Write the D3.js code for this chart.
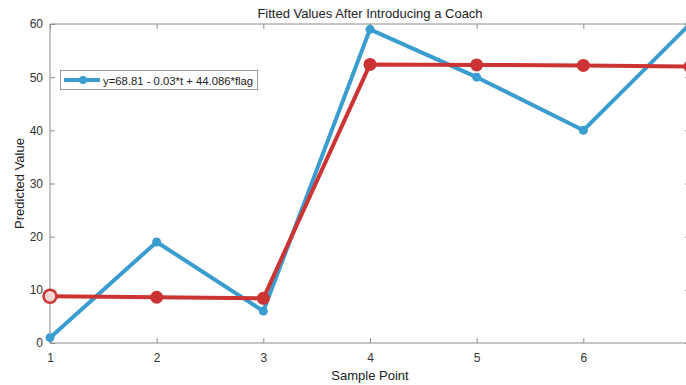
<!DOCTYPE html>
<html><head><meta charset="utf-8">
<script src="https://cdn.jsdelivr.net/npm/d3@7/dist/d3.min.js"></script>
<style>body{margin:0;background:#fff}svg{display:block;font-family:"Liberation Sans",Arial,sans-serif}</style>
</head><body><svg id="c" width="686" height="385"></svg>
<script>
const samplePoints = [1, 2, 3, 4, 5, 6, 7];
const actualValues = [1, 19, 6, 59, 50, 40, 60];
const fittedValues = [8.8, 8.6, 8.4, 52.4, 52.3, 52.2, 52.0];
const xTicks = [1, 2, 3, 4, 5, 6, 7];
const xTickLabels = ["1", "2", "3", "4", "5", "6", ""];
const yTicks = [0, 10, 20, 30, 40, 50, 60];
const legendLabel = "y=68.81 - 0.03*t + 44.086*flag";
const titleText = "Fitted Values After Introducing a Coach";

const svg = d3.select("#c");
const L = 50, R = 690, T = 24, B = 343;
const x = d3.scaleLinear().domain([1, 7]).range([L, R]);
const y = d3.scaleLinear().domain([0, 60]).range([B, T]);
const axisColor = "#8c8c8c", textColor = "#333";

const g = svg.append("g");
g.append("line").attr("x1", L).attr("x2", R).attr("y1", T).attr("y2", T).attr("stroke", axisColor);
g.append("line").attr("x1", L).attr("x2", R).attr("y1", B).attr("y2", B).attr("stroke", axisColor);
g.append("line").attr("x1", L).attr("x2", L).attr("y1", T).attr("y2", B).attr("stroke", axisColor);
g.append("line").attr("x1", R).attr("x2", R).attr("y1", T).attr("y2", B).attr("stroke", axisColor);

const xAxis = d3.axisBottom(x).tickValues(xTicks).tickSize(-5).tickPadding(10).tickFormat((d, i) => xTickLabels[i]);
const gx = svg.append("g").attr("transform", `translate(0,${B})`).call(xAxis);
const xTop = d3.axisTop(x).tickValues(xTicks).tickSize(-5).tickFormat("");
const gxt = svg.append("g").attr("transform", `translate(0,${T})`).call(xTop);
const yAxis = d3.axisLeft(y).tickValues(yTicks).tickSize(-5).tickPadding(7).tickFormat(d3.format("d"));
const gy = svg.append("g").attr("transform", `translate(${L},0)`).call(yAxis);
const yRight = d3.axisRight(y).tickValues(yTicks).tickSize(-5).tickFormat("");
const gyr = svg.append("g").attr("transform", `translate(${R},0)`).call(yRight);
[gx, gxt, gy, gyr].forEach(a => {
  a.select(".domain").remove();
  a.selectAll(".tick line").attr("stroke", axisColor);
  a.selectAll(".tick text").attr("fill", textColor).style("font-size", "12px").style("font-family", '"Liberation Sans",Arial,sans-serif');
});

const blue = "#3a9dcf", red = "#cc3333";
const plot = svg.append("g");
const line = d3.line().x((d, i) => x(samplePoints[i])).y(d => y(d));
plot.append("path").datum(actualValues).attr("d", line).attr("fill", "none").attr("stroke", blue).attr("stroke-width", 4).attr("stroke-linejoin", "round");
plot.selectAll(".bm").data(actualValues).enter().append("circle")
  .attr("cx", (d, i) => x(samplePoints[i])).attr("cy", d => y(d)).attr("r", 4.5).attr("fill", blue);
plot.append("path").datum(fittedValues).attr("d", line).attr("fill", "none").attr("stroke", red).attr("stroke-width", 4).attr("stroke-linejoin", "round");
plot.selectAll(".rm").data(fittedValues).enter().append("circle")
  .attr("cx", (d, i) => x(samplePoints[i])).attr("cy", d => y(d)).attr("r", 6.5)
  .attr("fill", (d, i) => i === 0 ? "#f3d6d6" : red).attr("stroke", red).attr("stroke-width", (d, i) => i === 0 ? 2.5 : 0);

const lg = svg.append("g");
lg.append("rect").attr("x", 60.5).attr("y", 70.5).attr("width", 197).attr("height", 19).attr("fill", "#fff").attr("stroke", "#999");
lg.append("line").attr("x1", 64).attr("x2", 100).attr("y1", 80).attr("y2", 80).attr("stroke", blue).attr("stroke-width", 4);
lg.append("circle").attr("cx", 83).attr("cy", 80).attr("r", 4).attr("fill", blue);
lg.append("text").attr("x", 103).attr("y", 84.5).text(legendLabel).attr("fill", "#222").style("font-size", "11.3px");

svg.append("text").attr("x", (L + R) / 2).attr("y", 18).attr("text-anchor", "middle").attr("fill", "#222").style("font-size", "13px").text(titleText);
svg.append("text").attr("x", (L + R) / 2).attr("y", 380).attr("text-anchor", "middle").attr("fill", "#222").style("font-size", "13px").text("Sample Point");
svg.append("text").attr("transform", `translate(24,${(T + B) / 2}) rotate(-90)`).attr("text-anchor", "middle").attr("fill", "#222").style("font-size", "13px").text("Predicted Value");
</script></body></html>
